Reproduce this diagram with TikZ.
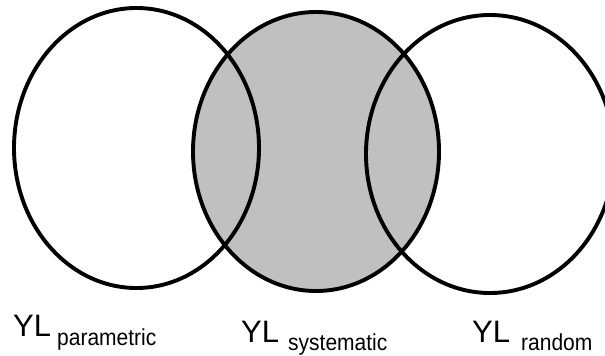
\documentclass[tikz,border=0pt]{standalone}
\usepackage{fontspec}
\setmainfont{Liberation Sans}
\definecolor{setgray}{HTML}{C0C0C0}
\begin{document}
\begin{tikzpicture}[x=1pt,y=-1pt,
  ring/.style={draw=black,line width=3.9pt},
  bigtxt/.style={anchor=base west,inner sep=0pt,font=\fontsize{31}{31}\selectfont},
  subtxt/.style={anchor=base west,inner sep=0pt,font=\fontsize{21}{21}\selectfont}]
\useasboundingbox (0,0) rectangle (605,356);
\begin{scope}
\clip (0,0) rectangle (605,356);
\fill[setgray] (316,151.5) ellipse [x radius=123, y radius=139.5];
\draw[ring] (136.5,148) ellipse [x radius=122.5, y radius=140];
\draw[ring] (316,151.5) ellipse [x radius=123, y radius=139.5];
\draw[ring] (490,154) ellipse [x radius=124, y radius=139];
\end{scope}
\node[bigtxt] (yl1) at (13,336) {YL};
\node[subtxt,yscale=1.1] (s1) at (57,345) {parametric};
\node[bigtxt] (yl2) at (241,342) {YL};
\node[subtxt,yscale=1.1] (s2) at (288,350.5) {systematic};
\node[bigtxt] (yl3) at (472,342) {YL};
\node[subtxt,yscale=1.1] (s3) at (521,350.5) {random};
\end{tikzpicture}
\end{document}
